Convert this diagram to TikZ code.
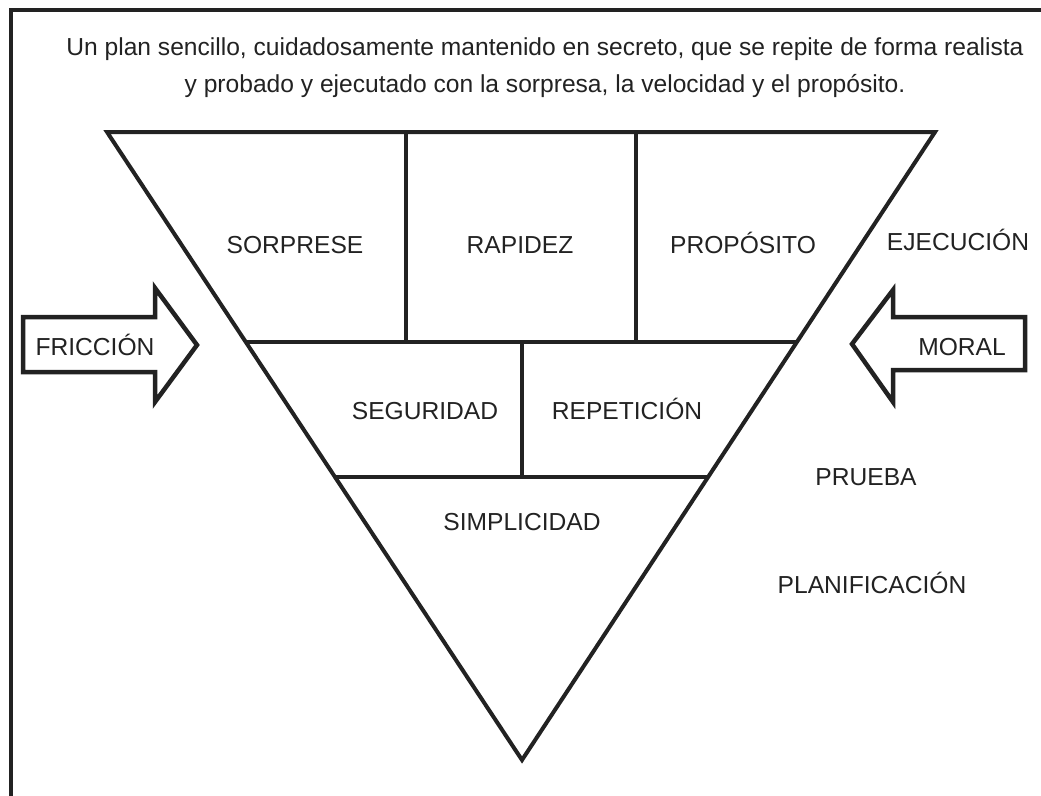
\documentclass[tikz,border=0pt]{standalone}
\usepackage{fontspec}
\setmainfont{Liberation Sans}
\usetikzlibrary{calc}
\begin{document}
\begin{tikzpicture}[x=1pt,y=-1pt,
  ln/.style={line width=4pt,draw=ink,line join=miter},
  lbl/.style={text=ink,font=\fontsize{24.6}{29}\selectfont,inner sep=0pt,
    text height=17.6pt,text depth=0pt,anchor=center},
  arrowshape/.style={line width=4.5pt,draw=ink,fill=white,line join=miter}]
\definecolor{ink}{HTML}{222222}
\useasboundingbox (0,0) rectangle (1041,795);
\clip (0,0) rectangle (1041,795);
% frame
\draw[ln] (11,10) rectangle (1060,815);
% title
\node[lbl] (t1) at (545,47) {Un plan sencillo, cuidadosamente mantenido en secreto, que se repite de forma realista};
\node[lbl] (t2) at (545,84) {y probado y ejecutado con la sorpresa, la velocidad y el propósito.};
% triangle
\coordinate (A) at (107,132);
\coordinate (B) at (935,132);
\coordinate (C) at (522,760);
\draw[ln] (A) -- (B) -- (C) -- cycle;
% row lines
\coordinate (r1l) at ($(A)!0.3344!(C)$);
\coordinate (r1r) at ($(B)!0.3344!(C)$);
\coordinate (r2l) at ($(A)!0.5493!(C)$);
\coordinate (r2r) at ($(B)!0.5493!(C)$);
\draw[ln] (r1l) -- (r1r);
\draw[ln] (r2l) -- (r2r);
\draw[ln] (406,132) -- (406,342);
\draw[ln] (636,132) -- (636,342);
\draw[ln] (522,342) -- (522,477);
% labels
\node[lbl] (sorp) at (295,245) {SORPRESE};
\node[lbl] (rap) at (520,245) {RAPIDEZ};
\node[lbl] (prop) at (743,245) {PROPÓSITO};
\node[lbl] (seg) at (425,411) {SEGURIDAD};
\node[lbl] (rep) at (627,411) {REPETICIÓN};
\node[lbl] (simp) at (522,522) {SIMPLICIDAD};
\node[lbl] (ejec) at (958,242) {EJECUCIÓN};
\node[lbl] (prue) at (866,477) {PRUEBA};
\node[lbl] (plan) at (872,585) {PLANIFICACIÓN};
% arrows
\draw[arrowshape] (23,317) -- (155,317) -- (155,288) -- (197,345) -- (155,402) -- (155,372) -- (23,372) -- cycle;
\node[lbl] (fric) at (95,347) {FRICCIÓN};
\draw[arrowshape] (1025,317) -- (893,317) -- (893,290) -- (852,344) -- (893,402) -- (893,370) -- (1025,370) -- cycle;
\node[lbl] (moral) at (962,347) {MORAL};
\end{tikzpicture}
\end{document}
